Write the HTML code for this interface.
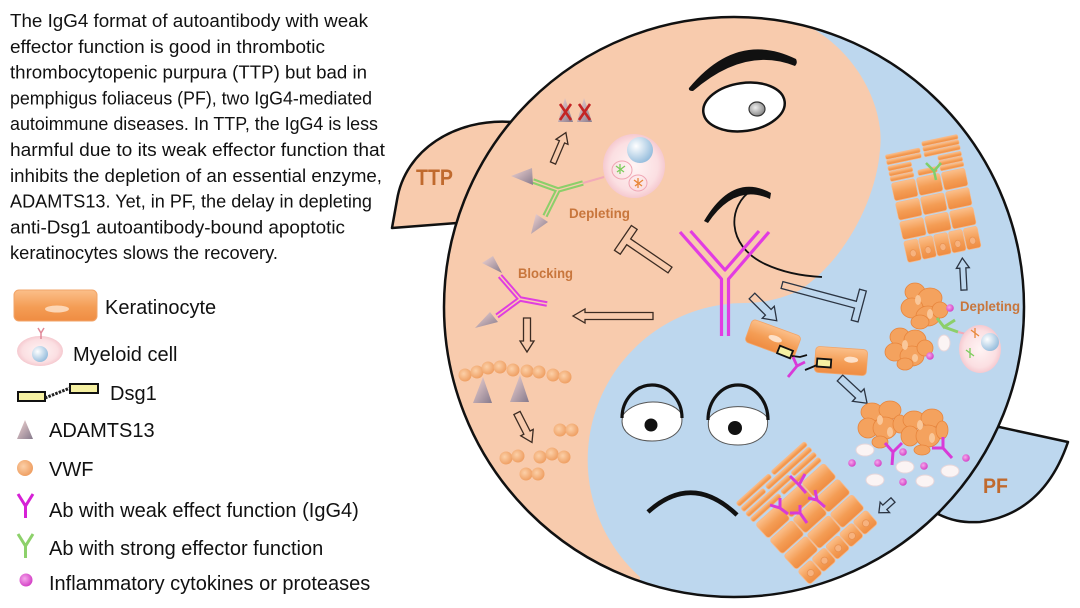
<!DOCTYPE html>
<html><head><meta charset="utf-8">
<style>
html,body{margin:0;padding:0;background:#fff;width:1080px;height:608px;overflow:hidden;}
svg{display:block;position:absolute;left:0;top:0;}
</style></head><body>
<svg width="1080" height="608" viewBox="0 0 1080 608" xmlns="http://www.w3.org/2000/svg">
<defs>
 <linearGradient id="kg" x1="0" y1="0" x2="0" y2="1">
  <stop offset="0" stop-color="#fbbf8a"/>
  <stop offset="0.55" stop-color="#f49d55"/>
  <stop offset="1" stop-color="#ef8c42"/>
 </linearGradient>
 <linearGradient id="tg" x1="0" y1="0" x2="1" y2="1">
  <stop offset="0" stop-color="#f4d6d4"/>
  <stop offset="1" stop-color="#867a8c"/>
 </linearGradient>
 <radialGradient id="vg" cx="0.4" cy="0.4" r="0.6">
  <stop offset="0" stop-color="#fcd0a8"/>
  <stop offset="1" stop-color="#efa064"/>
 </radialGradient>
 <radialGradient id="pg" cx="0.4" cy="0.4" r="0.6">
  <stop offset="0" stop-color="#f6a8ec"/>
  <stop offset="1" stop-color="#d443c6"/>
 </radialGradient>
 <radialGradient id="mg" cx="0.5" cy="0.5" r="0.55">
  <stop offset="0" stop-color="#fff4f4"/>
  <stop offset="0.7" stop-color="#fbdfe2"/>
  <stop offset="1" stop-color="#f3c0c8"/>
 </radialGradient>
 <radialGradient id="ng" cx="0.35" cy="0.35" r="0.7">
  <stop offset="0" stop-color="#ffffff"/>
  <stop offset="1" stop-color="#94bcdc"/>
 </radialGradient>
 <radialGradient id="eg" cx="0.4" cy="0.4" r="0.6">
  <stop offset="0" stop-color="#eeeeee"/>
  <stop offset="1" stop-color="#8a8a8a"/>
 </radialGradient>
 <clipPath id="cc"><circle cx="734" cy="307" r="290"/></clipPath>
</defs>

<!-- paragraph -->
<g font-family="Liberation Sans, Arial, sans-serif" font-size="18" fill="#111">
 <text x="10" y="27" textLength="358" lengthAdjust="spacingAndGlyphs">The IgG4 format of autoantibody with weak</text>
 <text x="10" y="52.8" textLength="315" lengthAdjust="spacingAndGlyphs">effector function is good in thrombotic</text>
 <text x="10" y="78.6" textLength="357" lengthAdjust="spacingAndGlyphs">thrombocytopenic purpura (TTP) but bad in</text>
 <text x="10" y="104.4" textLength="362" lengthAdjust="spacingAndGlyphs">pemphigus foliaceus (PF), two IgG4-mediated</text>
 <text x="10" y="130.2" textLength="368" lengthAdjust="spacingAndGlyphs">autoimmune diseases. In TTP, the IgG4 is less</text>
 <text x="10" y="156" textLength="375" lengthAdjust="spacingAndGlyphs">harmful due to its weak effector function that</text>
 <text x="10" y="181.8" textLength="372" lengthAdjust="spacingAndGlyphs">inhibits the depletion of an essential enzyme,</text>
 <text x="10" y="207.6" textLength="362" lengthAdjust="spacingAndGlyphs">ADAMTS13. Yet, in PF, the delay in depleting</text>
 <text x="10" y="233.4" textLength="335" lengthAdjust="spacingAndGlyphs">anti-Dsg1 autoantibody-bound apoptotic</text>
 <text x="10" y="259.2" textLength="268" lengthAdjust="spacingAndGlyphs">keratinocytes slows the recovery.</text>
</g>

<!-- legend -->
<g>
 <rect x="14" y="290" width="83" height="31" rx="5" fill="url(#kg)" stroke="#f2a468" stroke-width="1"/>
 <ellipse cx="57" cy="309" rx="12" ry="3.5" fill="#fde0c8" opacity="0.85"/>
 <ellipse cx="40" cy="351" rx="23" ry="15" fill="url(#mg)"/>
 <circle cx="40" cy="354" r="8" fill="url(#ng)"/>
 <path d="M38 328 L41 333 L44 328 M41 333 L41 339" stroke="#e08898" stroke-width="1.5" fill="none"/>
 <rect x="18" y="392" width="27" height="9" fill="#f6f1a2" stroke="#111" stroke-width="2"/>
 <rect x="70" y="384" width="28" height="9" fill="#f6f1a2" stroke="#111" stroke-width="2"/>
 <path d="M45 398 L70 388" stroke="#222" stroke-width="3" stroke-dasharray="2.5 1.2"/>
 <polygon points="25,420 17,439 33,439" fill="url(#tg)"/>
 <circle cx="25" cy="468" r="8" fill="url(#vg)"/>
 <path d="M18 494 L25.5 506 L33 494 M25.5 506 L25.5 518" stroke="#d621d6" stroke-width="3" fill="none"/>
 <path d="M18 534 L25.5 546 L33 534 M25.5 546 L25.5 558" stroke="#8dd16b" stroke-width="3" fill="none"/>
 <circle cx="26" cy="580" r="6.5" fill="url(#pg)"/>
</g>
<g font-family="Liberation Sans, Arial, sans-serif" font-size="20" fill="#111">
 <text x="105" y="314">Keratinocyte</text>
 <text x="73" y="361">Myeloid cell</text>
 <text x="110" y="400">Dsg1</text>
 <text x="49" y="437">ADAMTS13</text>
 <text x="49" y="476">VWF</text>
 <text x="49" y="517">Ab with weak effect function (IgG4)</text>
 <text x="49" y="555">Ab with strong effector function</text>
 <text x="49" y="590">Inflammatory cytokines or proteases</text>
</g>

<!-- fins -->
<path d="M512 122 C455 118, 405 150, 397 200 L392 228 L470 222 Z" fill="#f8cbad" stroke="#111" stroke-width="2.5" stroke-linejoin="round"/>
<path d="M990 425 L1068 442 C1055 480, 1030 515, 980 522 C962 523, 950 520, 938 514 Z" fill="#bdd7ee" stroke="#111" stroke-width="2.5" stroke-linejoin="round"/>

<!-- big circle yin-yang -->
<circle cx="734" cy="307" r="290" fill="#f8cbad"/>
<g clip-path="url(#cc)">
 <path d="M810 27 C860 55, 885 110, 880 150 C876 200, 845 260, 800 290 C780 300, 760 303, 745 303 L745 606 L1078 606 L1078 2 L810 2 Z" fill="#bdd7ee"/>
 <path d="M640 577 A157 157 0 0 1 745 303 L760 303 L760 606 L640 606 Z" fill="#bdd7ee"/>
</g>
<circle cx="734" cy="307" r="290" fill="none" stroke="#111" stroke-width="2.5"/>

<!-- fin labels -->
<g font-family="Liberation Sans, Arial, sans-serif" font-weight="bold" fill="#c06a2e">
 <text x="416" y="185" font-size="22" textLength="37" lengthAdjust="spacingAndGlyphs">TTP</text>
 <text x="983" y="493" font-size="21" textLength="25" lengthAdjust="spacingAndGlyphs">PF</text>
</g>

<!-- peach face -->
<path d="M689 88 Q737 30 796 59 Q798 63 795 66 Q745 46 693 91 Q688 91 689 88 Z" fill="#111"/>
<ellipse cx="744" cy="107" rx="41" ry="24" fill="#fff" stroke="#111" stroke-width="2.5" transform="rotate(-8 744 107)"/>
<ellipse cx="757" cy="109" rx="8" ry="7" fill="url(#eg)" stroke="#333" stroke-width="1.2"/>
<path d="M704 221 Q733 172 771 193 L770 199 Q735 183 708 223 Z" fill="#111"/>
<path d="M752 190 C728 205, 725 245, 765 264 C780 271, 800 276, 822 277" fill="none" stroke="#111" stroke-width="1.8"/>

<!-- blue face -->
<path d="M623 415 C635 398, 670 398, 681 413 C686 432, 670 441, 652 441 C634 441, 618 432, 623 415 Z" fill="#fff" stroke="#555" stroke-width="1"/>
<path d="M622 418 A30 33 0 0 1 682 418" fill="none" stroke="#111" stroke-width="3.2"/>
<circle cx="651" cy="425" r="6.5" fill="#111"/>
<path d="M709 418 C720 403, 755 403, 767 417 C771 436, 755 445, 738 445 C720 445, 705 436, 709 418 Z" fill="#fff" stroke="#555" stroke-width="1"/>
<path d="M708 420 A30 35 0 0 1 768 420" fill="none" stroke="#111" stroke-width="3.2"/>
<circle cx="735" cy="428" r="7" fill="#111"/>
<path d="M648 512 Q692 472 737 515" fill="none" stroke="#111" stroke-width="4.5"/>

<!-- big Y -->
<g stroke="#e23ce2" stroke-width="3.2" fill="none" stroke-linejoin="round">
 <path d="M680 232 L721.5 279 L721.5 336"/>
 <path d="M769 232 L728.5 279 L728.5 336"/>
 <path d="M690.5 231 L725 270 L759 231"/>
</g>

<!-- hollow arrows -->
<g fill="none" stroke="#3b2b22" stroke-width="1.3" stroke-linejoin="miter">
 <path transform="translate(553,163) rotate(-67)" d="M0,-2.8 L23,-2.8 L23,-6.5 L33,0 L23,6.5 L23,2.8 L0,2.8 Z"/>
 <path transform="translate(653,316) rotate(180)" d="M0,-3.5 L68,-3.5 L68,-7 L80,0 L68,7 L68,3.5 L0,3.5 Z"/>
 <path transform="translate(527,318) rotate(90)" d="M0,-3.5 L23,-3.5 L23,-7 L34,0 L23,7 L23,3.5 L0,3.5 Z"/>
 <path transform="translate(517,413) rotate(63)" d="M0,-3.5 L22,-3.5 L22,-7 L33,0 L22,7 L22,3.5 L0,3.5 Z"/>
 <path transform="translate(670,270) rotate(214.3)" d="M0,-3.5 L50,-3.5 L50,-15 L57,-15 L57,15 L50,15 L50,3.5 L0,3.5 Z"/>
</g>
<g fill="none" stroke="#2b3442" stroke-width="1.3">
 <path transform="translate(752,296) rotate(45)" d="M0,-4 L23,-4 L23,-8.5 L35,0 L23,8.5 L23,4 L0,4 Z"/>
 <path transform="translate(840,378) rotate(43)" d="M0,-4 L25,-4 L25,-8.5 L37,0 L25,8.5 L25,4 L0,4 Z"/>
 <path transform="translate(893,500) rotate(138)" d="M0,-3 L11,-3 L11,-7 L19,0 L11,7 L11,3 L0,3 Z"/>
 <path transform="translate(964,290) rotate(-93)" d="M0,-3 L22,-3 L22,-6.5 L32,0 L22,6.5 L22,3 L0,3 Z"/>
 <path transform="translate(782,285) rotate(15)" d="M0,-3.5 L76,-3.5 L76,-16 L83,-16 L83,16 L76,16 L76,3.5 L0,3.5 Z"/>
</g>

<!-- TTP side: depleting -->
<g>
 <polygon points="565,98 558,122 573,122" fill="url(#tg)"/>
 <polygon points="584,98 577,122 592,122" fill="url(#tg)"/>
 <path d="M560 104 L571 120 M571 104 L560 120 M579 104 L590 120 M590 104 L579 120" stroke="#c42424" stroke-width="2.6"/>
 <ellipse cx="634" cy="166" rx="31" ry="32" fill="url(#mg)"/>
 <circle cx="640" cy="150" r="13" fill="url(#ng)"/>
 <ellipse cx="622" cy="170" rx="10" ry="9" fill="none" stroke="#f0a6b4" stroke-width="1"/>
 <ellipse cx="638" cy="183" rx="9" ry="8" fill="none" stroke="#f0a6b4" stroke-width="1"/>
 <path d="M616 166 L624 172 M620 164 L620 174 M617 172 L625 166" stroke="#7ccc5c" stroke-width="1.3"/>
 <path d="M634 180 L642 186 M638 178 L638 188 M635 186 L643 180" stroke="#e8883a" stroke-width="1.3"/>
 <path d="M583 183 L604 177" stroke="#f2aab8" stroke-width="2"/>
 <path d="M533 181 L558 190 L583 183 M558 190 L545 216" stroke="#8ccf6a" stroke-width="5.5" fill="none" stroke-linejoin="round"/>
 <path d="M533 181 L558 190 L583 183 M558 190 L545 216" stroke="#f8cbad" stroke-width="1.4" fill="none" stroke-linejoin="round"/>
 <polygon points="511,176 532,168 533,185" fill="url(#tg)"/>
 <polygon points="531,234 536,214 548,222" fill="url(#tg)"/>
</g>
<g font-family="Liberation Sans, Arial, sans-serif" font-weight="bold" font-size="13.5" fill="#c8763c">
 <text x="569" y="218" textLength="61" lengthAdjust="spacingAndGlyphs">Depleting</text>
 <text x="518" y="278" textLength="55" lengthAdjust="spacingAndGlyphs">Blocking</text>
 <text x="960" y="311" textLength="60" lengthAdjust="spacingAndGlyphs">Depleting</text>
</g>

<!-- blocking Y -->
<path d="M500 276 L520 299 L547 304 M520 299 L497 316" stroke="#e03de0" stroke-width="5.5" fill="none" stroke-linejoin="round"/>
<path d="M500 276 L520 299 L547 304 M520 299 L497 316" stroke="#f8cbad" stroke-width="1.5" fill="none" stroke-linejoin="round"/>
<polygon points="482,263 493,256 502,273" fill="url(#tg)"/>
<polygon points="475,328 490,312 498,322" fill="url(#tg)"/>

<!-- VWF -->
<g fill="url(#vg)">
 <circle cx="465" cy="375" r="6.5"/><circle cx="477" cy="372" r="6.5"/><circle cx="488" cy="368" r="6.5"/>
 <circle cx="500" cy="367" r="6.5"/><circle cx="513" cy="370" r="6.5"/><circle cx="527" cy="371" r="6.5"/>
 <circle cx="539" cy="372" r="6.5"/><circle cx="553" cy="375" r="6.5"/><circle cx="565" cy="377" r="6.5"/>
 <circle cx="560" cy="430" r="6.5"/><circle cx="572" cy="430" r="6.5"/>
 <circle cx="506" cy="458" r="6.5"/><circle cx="518" cy="456" r="6.5"/>
 <circle cx="540" cy="457" r="6.5"/><circle cx="552" cy="454" r="6.5"/><circle cx="564" cy="457" r="6.5"/>
 <circle cx="526" cy="474" r="6.5"/><circle cx="538" cy="474" r="6.5"/>
</g>
<polygon points="483,377 473,403 492,403" fill="url(#tg)"/>
<polygon points="520,375 510,402 529,402" fill="url(#tg)"/>

<!-- top-right keratinocyte stack -->
<g transform="translate(884,150) rotate(-12) scale(0.75,0.9)" fill="url(#kg)" stroke="#f7b98a" stroke-width="0.8">
 <rect x="0" y="6" width="47" height="5" rx="2"/><rect x="0" y="12" width="47" height="5" rx="2"/>
 <rect x="51" y="0" width="49" height="5" rx="2"/><rect x="51" y="6" width="49" height="5" rx="2"/><rect x="51" y="12" width="49" height="5" rx="2"/>
 <rect x="0" y="19" width="32" height="5" rx="2"/><rect x="0" y="25" width="32" height="5" rx="2"/><rect x="0" y="31" width="32" height="5" rx="2"/>
 <rect x="38" y="30" width="26" height="6" rx="2"/>
 <rect x="68" y="19" width="32" height="5" rx="2"/><rect x="68" y="25" width="32" height="5" rx="2"/><rect x="68" y="31" width="32" height="5" rx="2"/>
 <rect x="0" y="38" width="32" height="20" rx="3"/><rect x="34" y="38" width="32" height="20" rx="3"/><rect x="68" y="38" width="32" height="20" rx="3"/>
 <rect x="0" y="60" width="32" height="20" rx="3"/><rect x="34" y="60" width="32" height="20" rx="3"/><rect x="68" y="60" width="32" height="20" rx="3"/>
 <rect x="0" y="82" width="32" height="20" rx="3"/><rect x="34" y="82" width="32" height="20" rx="3"/><rect x="68" y="82" width="32" height="20" rx="3"/>
 <rect x="0" y="104" width="19" height="24" rx="3"/><rect x="20.25" y="104" width="19" height="24" rx="3"/><rect x="40.5" y="104" width="19" height="24" rx="3"/><rect x="60.75" y="104" width="19" height="24" rx="3"/><rect x="81" y="104" width="19" height="24" rx="3"/>
 <g fill="#f7b27e" stroke="#e89050"><circle cx="9.5" cy="119" r="4"/><circle cx="29.75" cy="119" r="4"/><circle cx="50" cy="119" r="4"/><circle cx="70.25" cy="119" r="4"/><circle cx="90.5" cy="119" r="4"/></g>
</g>
<path d="M926 163 L934 171 L941 163 M934 171 L936 180" stroke="#7fcf6a" stroke-width="2.5" fill="none"/>

<!-- bottom keratinocyte stack -->
<g transform="translate(736,503) rotate(-42)" fill="url(#kg)" stroke="#f7b98a" stroke-width="0.8">
 <rect x="0" y="0" width="44" height="5" rx="2"/><rect x="47" y="0" width="45" height="5" rx="2"/>
 <rect x="0" y="7" width="30" height="5" rx="2"/><rect x="33" y="7" width="59" height="5" rx="2"/>
 <rect x="0" y="14" width="58" height="5" rx="2"/><rect x="61" y="14" width="31" height="5" rx="2"/>
 <rect x="0" y="21" width="38" height="5" rx="2"/><rect x="41" y="21" width="51" height="5" rx="2"/>
 <rect x="0" y="29" width="30" height="19" rx="3"/><rect x="31" y="29" width="30" height="19" rx="3"/><rect x="62" y="29" width="30" height="19" rx="3"/>
 <rect x="0" y="50" width="30" height="19" rx="3"/><rect x="31" y="50" width="30" height="19" rx="3"/><rect x="62" y="50" width="30" height="19" rx="3"/>
 <rect x="0" y="71" width="30" height="19" rx="3"/><rect x="31" y="71" width="30" height="19" rx="3"/><rect x="62" y="71" width="30" height="19" rx="3"/>
 <rect x="0" y="92" width="17.5" height="18" rx="3"/><rect x="18.5" y="92" width="17.5" height="18" rx="3"/><rect x="37" y="92" width="17.5" height="18" rx="3"/><rect x="55.5" y="92" width="17.5" height="18" rx="3"/><rect x="74" y="92" width="18" height="18" rx="3"/>
 <g fill="#f7b27e" stroke="#e89050"><circle cx="8.7" cy="102" r="3.5"/><circle cx="27.2" cy="102" r="3.5"/><circle cx="45.7" cy="102" r="3.5"/><circle cx="64.2" cy="102" r="3.5"/><circle cx="83" cy="102" r="3.5"/></g>
</g>
<g stroke="#d83ad8" stroke-width="3" fill="none" stroke-linejoin="round">
 <path d="M790 476 L799 485 L805 474 M799 485 L806 493"/>
 <path d="M808 498 L817 500 L815 490 M817 500 L825 507"/>
 <path d="M770 505 L780 508 L780 498 M780 508 L788 514"/>
 <path d="M790 513 L800 513 L800 505 M800 513 L807 523"/>
</g>

<!-- apoptotic clumps -->
<g fill="#f4a25e" stroke="#e8853c" stroke-width="0.8">
 <ellipse cx="915" cy="292" rx="10" ry="9"/><ellipse cx="930" cy="298" rx="12" ry="10"/><ellipse cx="912" cy="308" rx="11" ry="10"/>
 <ellipse cx="928" cy="316" rx="12" ry="10"/><ellipse cx="940" cy="310" rx="8" ry="8"/><ellipse cx="920" cy="322" rx="9" ry="7"/>
 <ellipse cx="900" cy="337" rx="10" ry="9"/><ellipse cx="915" cy="340" rx="11" ry="10"/><ellipse cx="895" cy="352" rx="10" ry="9"/>
 <ellipse cx="912" cy="356" rx="12" ry="10"/><ellipse cx="925" cy="348" rx="8" ry="8"/><ellipse cx="905" cy="364" rx="8" ry="6"/>
 <ellipse cx="872" cy="412" rx="11" ry="9"/><ellipse cx="890" cy="410" rx="11" ry="9"/><ellipse cx="868" cy="428" rx="10" ry="10"/>
 <ellipse cx="885" cy="428" rx="12" ry="11"/><ellipse cx="900" cy="424" rx="7" ry="9"/><ellipse cx="880" cy="442" rx="8" ry="6"/>
 <ellipse cx="914" cy="420" rx="11" ry="9"/><ellipse cx="932" cy="418" rx="11" ry="9"/><ellipse cx="910" cy="436" rx="9" ry="10"/>
 <ellipse cx="928" cy="436" rx="12" ry="11"/><ellipse cx="942" cy="430" rx="6" ry="9"/><ellipse cx="922" cy="450" rx="8" ry="5"/>
</g>
<g fill="#f9c79a">
 <ellipse cx="918" cy="300" rx="3" ry="5"/><ellipse cx="930" cy="314" rx="3" ry="5"/><ellipse cx="905" cy="345" rx="3" ry="5"/><ellipse cx="915" cy="358" rx="3" ry="4"/>
 <ellipse cx="880" cy="420" rx="3" ry="5"/><ellipse cx="890" cy="432" rx="3" ry="5"/><ellipse cx="920" cy="425" rx="3" ry="5"/><ellipse cx="932" cy="438" rx="3" ry="5"/>
</g>
<path d="M937 318 L944 327 L955 320 M944 327 L958 332" stroke="#8ccf6a" stroke-width="3" fill="none"/>
<path d="M958 332 L966 334" stroke="#f2aab8" stroke-width="2"/>
<ellipse cx="980" cy="349" rx="21" ry="24" fill="url(#mg)"/>
<circle cx="990" cy="342" r="9" fill="url(#ng)"/>
<path d="M966 350 L974 356 M970 348 L970 358" stroke="#7ccc5c" stroke-width="1.3"/>
<path d="M971 330 L979 336 M975 328 L975 338" stroke="#e8883a" stroke-width="1.3"/>
<g stroke="#d83ad8" stroke-width="3" fill="none" stroke-linejoin="round">
 <path d="M885 443 L893 452 L902 443 M893 452 L892 465"/>
 <path d="M932 448 L943 448 L943 437 M943 448 L952 458"/>
</g>
<g fill="#fbf4f4" stroke="#e6d6da" stroke-width="1">
 <ellipse cx="865" cy="450" rx="9" ry="6"/><ellipse cx="905" cy="467" rx="9" ry="6"/><ellipse cx="875" cy="480" rx="9" ry="6"/>
 <ellipse cx="925" cy="481" rx="9" ry="6"/><ellipse cx="950" cy="471" rx="9" ry="6"/><ellipse cx="944" cy="343" rx="6" ry="8"/>
</g>
<g fill="url(#pg)">
 <circle cx="852" cy="463" r="3.8"/><circle cx="878" cy="463" r="3.8"/><circle cx="903" cy="452" r="3.8"/>
 <circle cx="924" cy="466" r="3.8"/><circle cx="903" cy="482" r="3.8"/><circle cx="966" cy="458" r="3.8"/>
 <circle cx="950" cy="308" r="3.8"/><circle cx="930" cy="356" r="3.8"/>
</g>

<!-- keratinocyte pair with Dsg1 -->
<g transform="translate(773,339) rotate(20)"><rect x="-26" y="-12" width="52" height="24" rx="4" fill="url(#kg)" stroke="#f2a468" stroke-width="0.8"/><ellipse cx="2" cy="-1" rx="7" ry="3" fill="#fde0c8"/></g>
<g transform="translate(841,361) rotate(4)"><rect x="-26" y="-13" width="52" height="26" rx="4" fill="url(#kg)" stroke="#f2a468" stroke-width="0.8"/><ellipse cx="10" cy="-2" rx="7" ry="3" fill="#fde0c8"/></g>
<rect x="-7" y="-4" width="14" height="8" fill="#f6f1a2" stroke="#111" stroke-width="1.8" transform="translate(785,352) rotate(22)"/>
<rect x="-7" y="-4" width="14" height="8" fill="#f6f1a2" stroke="#111" stroke-width="1.8" transform="translate(824,363) rotate(4)"/>
<path d="M792 356 L800 357 L807 355 M817 365 L810 368 L805 370" stroke="#111" stroke-width="1.8" fill="none"/>
<path d="M793 357 L797 366 L805 362 M797 366 L788 377" stroke="#d83ad8" stroke-width="2.8" fill="none"/>

</svg>
</body></html>
